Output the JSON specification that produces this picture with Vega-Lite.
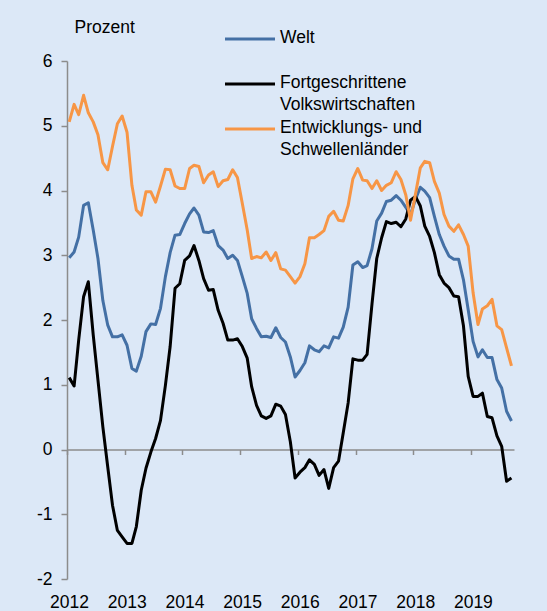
{
  "$schema": "https://vega.github.io/schema/vega-lite/v6.json",
  "autosize": {"type": "none"},
  "width": 447,
  "height": 518,
  "padding": {"left": 67, "top": 61, "right": 33, "bottom": 32},
  "background": "#dce8f7",
  "config": {
    "view": {"stroke": null},
    "font": "Liberation Sans",
    "style": {"guide-label": {"lineHeight": 22}}
  },
  "data": {
    "values": [
      {"d": "2012-01-15", "w": 2.96, "ae": 1.11, "em": 5.06},
      {"d": "2012-02-15", "w": 3.05, "ae": 0.98, "em": 5.33},
      {"d": "2012-03-15", "w": 3.28, "ae": 1.69, "em": 5.17},
      {"d": "2012-04-15", "w": 3.77, "ae": 2.36, "em": 5.47},
      {"d": "2012-05-15", "w": 3.81, "ae": 2.59, "em": 5.2},
      {"d": "2012-06-15", "w": 3.39, "ae": 1.77, "em": 5.06},
      {"d": "2012-07-15", "w": 2.95, "ae": 1.07, "em": 4.86},
      {"d": "2012-08-15", "w": 2.3, "ae": 0.35, "em": 4.43},
      {"d": "2012-09-15", "w": 1.92, "ae": -0.27, "em": 4.32},
      {"d": "2012-10-15", "w": 1.74, "ae": -0.86, "em": 4.68},
      {"d": "2012-11-15", "w": 1.74, "ae": -1.25, "em": 5.03},
      {"d": "2012-12-15", "w": 1.77, "ae": -1.35, "em": 5.15},
      {"d": "2013-01-15", "w": 1.61, "ae": -1.45, "em": 4.9},
      {"d": "2013-02-15", "w": 1.25, "ae": -1.45, "em": 4.08},
      {"d": "2013-03-15", "w": 1.21, "ae": -1.19, "em": 3.7},
      {"d": "2013-04-15", "w": 1.44, "ae": -0.63, "em": 3.62},
      {"d": "2013-05-15", "w": 1.82, "ae": -0.29, "em": 3.98},
      {"d": "2013-06-15", "w": 1.94, "ae": -0.04, "em": 3.98},
      {"d": "2013-07-15", "w": 1.93, "ae": 0.17, "em": 3.82},
      {"d": "2013-08-15", "w": 2.18, "ae": 0.45, "em": 4.07},
      {"d": "2013-09-15", "w": 2.67, "ae": 0.99, "em": 4.33},
      {"d": "2013-10-15", "w": 3.04, "ae": 1.59, "em": 4.32},
      {"d": "2013-11-15", "w": 3.31, "ae": 2.49, "em": 4.07},
      {"d": "2013-12-15", "w": 3.32, "ae": 2.56, "em": 4.03},
      {"d": "2014-01-15", "w": 3.49, "ae": 2.92, "em": 4.03},
      {"d": "2014-02-15", "w": 3.64, "ae": 2.99, "em": 4.34},
      {"d": "2014-03-15", "w": 3.73, "ae": 3.15, "em": 4.39},
      {"d": "2014-04-15", "w": 3.62, "ae": 2.92, "em": 4.37},
      {"d": "2014-05-15", "w": 3.36, "ae": 2.64, "em": 4.12},
      {"d": "2014-06-15", "w": 3.35, "ae": 2.46, "em": 4.24},
      {"d": "2014-07-15", "w": 3.38, "ae": 2.47, "em": 4.29},
      {"d": "2014-08-15", "w": 3.15, "ae": 2.15, "em": 4.06},
      {"d": "2014-09-15", "w": 3.08, "ae": 1.95, "em": 4.15},
      {"d": "2014-10-15", "w": 2.95, "ae": 1.69, "em": 4.17},
      {"d": "2014-11-15", "w": 3.0, "ae": 1.69, "em": 4.32},
      {"d": "2014-12-15", "w": 2.92, "ae": 1.71, "em": 4.2},
      {"d": "2015-01-15", "w": 2.67, "ae": 1.59, "em": 3.8},
      {"d": "2015-02-15", "w": 2.41, "ae": 1.41, "em": 3.39},
      {"d": "2015-03-15", "w": 2.02, "ae": 0.97, "em": 2.95},
      {"d": "2015-04-15", "w": 1.87, "ae": 0.68, "em": 2.98},
      {"d": "2015-05-15", "w": 1.74, "ae": 0.52, "em": 2.96},
      {"d": "2015-06-15", "w": 1.75, "ae": 0.48, "em": 3.05},
      {"d": "2015-07-15", "w": 1.73, "ae": 0.52, "em": 2.92},
      {"d": "2015-08-15", "w": 1.88, "ae": 0.7, "em": 3.04},
      {"d": "2015-09-15", "w": 1.73, "ae": 0.67, "em": 2.79},
      {"d": "2015-10-15", "w": 1.66, "ae": 0.54, "em": 2.77},
      {"d": "2015-11-15", "w": 1.43, "ae": 0.12, "em": 2.67},
      {"d": "2015-12-15", "w": 1.12, "ae": -0.44, "em": 2.57},
      {"d": "2016-01-15", "w": 1.22, "ae": -0.35, "em": 2.67},
      {"d": "2016-02-15", "w": 1.34, "ae": -0.28, "em": 2.87},
      {"d": "2016-03-15", "w": 1.6, "ae": -0.16, "em": 3.27},
      {"d": "2016-04-15", "w": 1.54, "ae": -0.23, "em": 3.27},
      {"d": "2016-05-15", "w": 1.51, "ae": -0.4, "em": 3.32},
      {"d": "2016-06-15", "w": 1.6, "ae": -0.31, "em": 3.38},
      {"d": "2016-07-15", "w": 1.57, "ae": -0.6, "em": 3.6},
      {"d": "2016-08-15", "w": 1.74, "ae": -0.28, "em": 3.68},
      {"d": "2016-09-15", "w": 1.72, "ae": -0.18, "em": 3.54},
      {"d": "2016-10-15", "w": 1.89, "ae": 0.26, "em": 3.53},
      {"d": "2016-11-15", "w": 2.2, "ae": 0.72, "em": 3.77},
      {"d": "2016-12-15", "w": 2.85, "ae": 1.4, "em": 4.18},
      {"d": "2017-01-15", "w": 2.9, "ae": 1.38, "em": 4.34},
      {"d": "2017-02-15", "w": 2.81, "ae": 1.38, "em": 4.16},
      {"d": "2017-03-15", "w": 2.84, "ae": 1.47, "em": 4.15},
      {"d": "2017-04-15", "w": 3.1, "ae": 2.25, "em": 4.03},
      {"d": "2017-05-15", "w": 3.53, "ae": 2.95, "em": 4.15},
      {"d": "2017-06-15", "w": 3.65, "ae": 3.27, "em": 4.0},
      {"d": "2017-07-15", "w": 3.83, "ae": 3.52, "em": 4.08},
      {"d": "2017-08-15", "w": 3.85, "ae": 3.49, "em": 4.12},
      {"d": "2017-09-15", "w": 3.92, "ae": 3.51, "em": 4.29},
      {"d": "2017-10-15", "w": 3.85, "ae": 3.44, "em": 4.17},
      {"d": "2017-11-15", "w": 3.74, "ae": 3.56, "em": 3.93},
      {"d": "2017-12-15", "w": 3.63, "ae": 3.85, "em": 3.54},
      {"d": "2018-01-15", "w": 3.86, "ae": 3.91, "em": 3.94},
      {"d": "2018-02-15", "w": 4.05, "ae": 3.76, "em": 4.35},
      {"d": "2018-03-15", "w": 3.99, "ae": 3.45, "em": 4.45},
      {"d": "2018-04-15", "w": 3.89, "ae": 3.29, "em": 4.43},
      {"d": "2018-05-15", "w": 3.6, "ae": 3.04, "em": 4.14},
      {"d": "2018-06-15", "w": 3.32, "ae": 2.7, "em": 3.96},
      {"d": "2018-07-15", "w": 3.14, "ae": 2.57, "em": 3.63},
      {"d": "2018-08-15", "w": 2.99, "ae": 2.5, "em": 3.45},
      {"d": "2018-09-15", "w": 2.94, "ae": 2.37, "em": 3.37},
      {"d": "2018-10-15", "w": 2.94, "ae": 2.36, "em": 3.47},
      {"d": "2018-11-15", "w": 2.62, "ae": 1.91, "em": 3.32},
      {"d": "2018-12-15", "w": 2.16, "ae": 1.13, "em": 3.14},
      {"d": "2019-01-15", "w": 1.67, "ae": 0.82, "em": 2.42},
      {"d": "2019-02-15", "w": 1.43, "ae": 0.82, "em": 1.93},
      {"d": "2019-03-15", "w": 1.54, "ae": 0.87, "em": 2.17},
      {"d": "2019-04-15", "w": 1.42, "ae": 0.51, "em": 2.22},
      {"d": "2019-05-15", "w": 1.42, "ae": 0.49, "em": 2.32},
      {"d": "2019-06-15", "w": 1.08, "ae": 0.21, "em": 1.91},
      {"d": "2019-07-15", "w": 0.95, "ae": 0.05, "em": 1.85},
      {"d": "2019-08-15", "w": 0.59, "ae": -0.49, "em": 1.57},
      {"d": "2019-09-15", "w": 0.44, "ae": -0.44, "em": 1.29}
    ]
  },
  "transform": [{"fold": ["w", "ae", "em"], "as": ["s", "v"]}],
  "mark": {"type": "line", "strokeWidth": 3, "strokeJoin": "round"},
  "encoding": {
    "x": {
      "field": "d",
      "type": "temporal",
      "scale": {
        "type": "utc",
        "nice": false,
        "domain": [
          {"year": 2012, "month": 1, "date": 1, "utc": true},
          {"year": 2019, "month": 10, "date": 1, "utc": true}
        ]
      },
      "axis": {
        "values": [
          {"year": 2012, "utc": true},
          {"year": 2013, "utc": true},
          {"year": 2014, "utc": true},
          {"year": 2015, "utc": true},
          {"year": 2016, "utc": true},
          {"year": 2017, "utc": true},
          {"year": 2018, "utc": true},
          {"year": 2019, "utc": true}
        ],
        "format": "%Y",
        "orient": "bottom",
        "offset": -129.5,
        "title": null,
        "grid": false,
        "domainColor": "#8c8c8c",
        "domainWidth": 1.5,
        "tickColor": "#8c8c8c",
        "tickWidth": 1.5,
        "tickSize": 5,
        "labelPadding": 139,
        "labelOffset": 2,
        "labelFontSize": 17.5,
        "labelColor": "#000000",
        "labelFlush": false,
        "labelOverlap": false
      }
    },
    "y": {
      "field": "v",
      "type": "quantitative",
      "scale": {"domain": [-2, 6], "nice": false, "zero": false},
      "axis": {
        "values": [-2, -1, 0, 1, 2, 3, 4, 5, 6],
        "labelExpr": "'' + datum.value",
        "grid": false,
        "domainColor": "#8c8c8c",
        "domainWidth": 1.5,
        "tickColor": "#8c8c8c",
        "tickWidth": 1.5,
        "tickSize": 6,
        "labelPadding": 9,
        "labelFontSize": 17.5,
        "labelColor": "#000000",
        "labelFlush": false,
        "title": "Prozent",
        "titleAngle": 0,
        "titleAlign": "left",
        "titleBaseline": "middle",
        "titleX": 7,
        "titleY": -34,
        "titleFontSize": 17.5,
        "titleFontWeight": "normal",
        "titleColor": "#000000"
      }
    },
    "color": {
      "field": "s",
      "type": "nominal",
      "scale": {
        "domain": ["w", "ae", "em"],
        "range": ["#4470a5", "#000000", "#f79646"]
      },
      "legend": {
        "title": null,
        "orient": "none",
        "legendX": 149.25,
        "legendY": -31.75,
        "padding": 0,
        "symbolType": "M0,0.143H7.143",
        "symbolSize": 196,
        "symbolStrokeWidth": 3,
        "labelFontSize": 17.5,
        "labelColor": "#000000",
        "labelBaseline": "middle",
        "labelOffset": 46.25,
        "labelLimit": 400,
        "rowPadding": 4,
        "labelExpr": "datum.value == 'w' ? ['Welt', ''] : datum.value == 'ae' ? ['Fortgeschrittene', 'Volkswirtschaften'] : ['Entwicklungs- und', 'Schwellenländer']"
      }
    }
  }
}
